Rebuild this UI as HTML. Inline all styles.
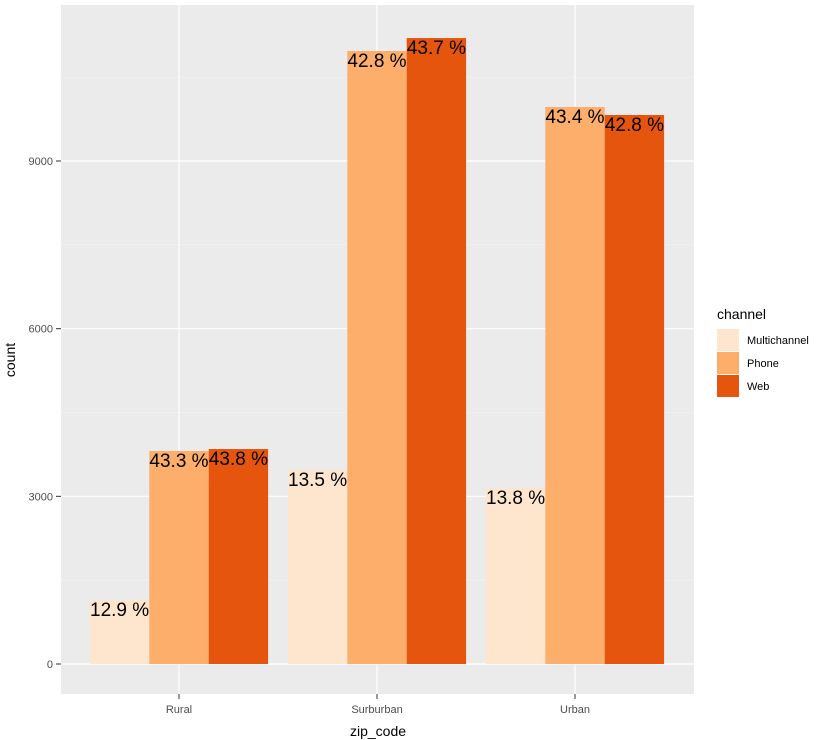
<!DOCTYPE html>
<html><head><meta charset="utf-8"><style>
body{margin:0;background:#fff;}
svg{display:block;font-family:"Liberation Sans",Arial,sans-serif;}
</style></head><body>
<svg id="chart" width="831" height="740">
<rect x="0" y="0" width="831" height="740" fill="#fff"/>
<rect x="61" y="5" width="633" height="689" fill="#EBEBEB"/>
<g id="grid"></g><g id="bars"></g><g id="labels"></g><g id="axes"></g>
<text x="15" y="360" transform="rotate(-90 15 360)" text-anchor="middle" font-size="14" fill="#000">count</text>
<text x="378" y="736" text-anchor="middle" font-size="14" fill="#000">zip_code</text>
<g id="legend">
<text x="717" y="319" font-size="14" fill="#000">channel</text>
</g>
</svg>
<script>
const categories=["Rural","Surburban","Urban"];
const series=["Multichannel","Phone","Web"];
const multichannel=[1145,3471,3149];
const phone=[3811,10968,9966];
const web=[3847,11200,9823];
const pctLabels=[["12.9 %","13.5 %","13.8 %"],["43.3 %","42.8 %","43.4 %"],["43.8 %","43.7 %","42.8 %"]];
const yTicks=[0,3000,6000,9000];
const yMinor=[1500,4500,7500,10500];
const colors=["#FEE6CE","#FDAE6B","#E6550D"];
const values=[multichannel,phone,web];
const NS="http://www.w3.org/2000/svg";
const y0=664, pxPer=(664-161)/9000;
const yS=v=>y0-v*pxPer;
const cx0=179, band=198, barW=178.2/3;
const xC=i=>cx0+i*band;
function mk(tag,attrs,parent){const e=document.createElementNS(NS,tag);for(const k in attrs)e.setAttribute(k,attrs[k]);document.getElementById(parent).appendChild(e);return e;}
yMinor.forEach(v=>{const l=mk('line',{x1:61,x2:694,y1:yS(v),y2:yS(v),stroke:'#F5F5F5','stroke-width':0.6},'grid');

});
yTicks.forEach(v=>{const l=mk('line',{x1:61,x2:694,y1:yS(v),y2:yS(v),stroke:'#fff','stroke-width':1.2},'grid');


const t=mk('line',{x1:56,x2:61,y1:yS(v),y2:yS(v),stroke:'#333','stroke-width':1},'axes');


const tx=mk('text',{x:53,y:yS(v)+4,'text-anchor':'end','font-size':11,fill:'#4D4D4D'},'axes');tx.textContent=v;

});
categories.forEach((c,i)=>{const l=mk('line',{x1:xC(i),x2:xC(i),y1:5,y2:694,stroke:'#fff','stroke-width':1.2},'grid');


const t=mk('line',{x1:xC(i),x2:xC(i),y1:694,y2:699,stroke:'#333','stroke-width':1},'axes');


const tx=mk('text',{x:xC(i),y:713,'text-anchor':'middle','font-size':11,fill:'#4D4D4D'},'axes');tx.textContent=c;

});
values.forEach((arr,s)=>{arr.forEach((v,i)=>{const x=xC(i)-89.1+s*barW;
const r=mk('rect',{x:x,y:yS(v),width:barW,height:y0-yS(v),fill:colors[s]},'bars');


const t=mk('text',{x:x+barW/2,y:yS(v)+16,'text-anchor':'middle','font-size':19,fill:'#000'},'labels');t.textContent=pctLabels[s][i];

});});
series.forEach((s,k)=>{const y=329+k*23;
const r=mk('rect',{x:717,y:y,width:22,height:22,fill:colors[k]},'legend');


const t=mk('text',{x:747,y:y+15,'font-size':11,fill:'#000'},'legend');t.textContent=s;

});
</script>
</body></html>
